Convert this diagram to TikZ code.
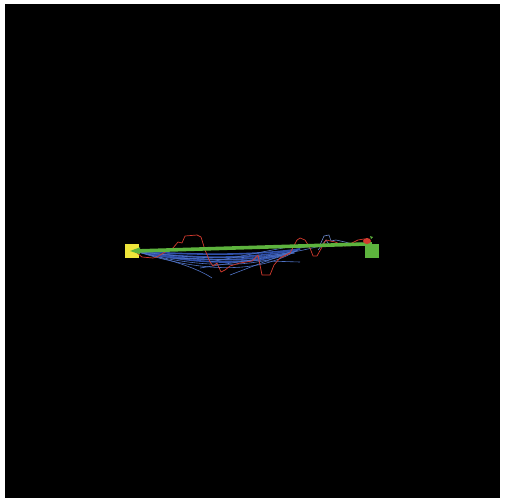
\documentclass[tikz,border=0pt]{standalone}
\usepackage{tikz}
\usetikzlibrary{shapes.geometric}
\definecolor{yel}{HTML}{EEE53A}
\definecolor{grn}{HTML}{5DB33D}
\definecolor{redp}{HTML}{D23A2E}
\definecolor{bluedk}{HTML}{2F4FA8}
\definecolor{bluelt}{HTML}{4F72C4}
\definecolor{bluest}{HTML}{6A86C8}
\tikzset{
  redpath/.style={draw=redp, line width=0.7pt, line join=round},
  bluethick/.style={draw=bluedk, line width=1.6pt},
  bluethin/.style={draw=bluelt, line width=0.6pt},
  bluest/.style={draw=bluest, line width=0.6pt},
  greenline/.style={draw=grn, line width=3.6pt},
}
\begin{document}
\begin{tikzpicture}[x=1pt,y=-1pt]
\useasboundingbox (0,0) rectangle (505,503);
\fill[white] (0,0) rectangle (505,503);
\fill[black] (5,4) rectangle (500,498);
% squares
\node[fill=yel, minimum size=14pt, inner sep=0pt] (start) at (132,251) {};
\node[fill=grn, minimum size=14pt, inner sep=0pt] (goal) at (372,251) {};
\coordinate (s) at (135,251);
\coordinate (m) at (300,249);
% blue fan (thick)
\draw[bluethick] (s) .. controls (190,255) and (250,256) .. (m);
\draw[bluethick] (s) .. controls (190,259) and (250,260) .. (m);
\draw[bluethick] (s) .. controls (190,262) and (250,263) .. (296,251);
\draw[bluethick] (s) .. controls (200,265) and (250,266) .. (292,252);
% blue fan (thin)
\draw[bluethin] (s) .. controls (195,268) and (255,270) .. (298,250);
\draw[bluethin] (s) .. controls (200,272) and (255,274) .. (294,252);
\draw[bluethin] (s) .. controls (200,260) and (260,262) .. (320,246);
\draw[bluethin] (s) .. controls (180,262) and (200,270) .. (212,278);
\draw[bluethin] (170,258) -- (300,262);
\draw[bluethin] (200,268) -- (295,253);
\draw[bluethin] (230,275) -- (290,252);
\draw[bluethin] (210,262) -- (283,248);
% steel blue wiggle
\draw[bluest] (300,248) -- (312,246) -- (320,245) -- (324,236) -- (329,235) -- (331,241) -- (336,240) -- (345,242) -- (352,244) -- (362,243);
\draw[bluest] (318,250) -- (326,240) -- (330,246);
% red path
\draw[redpath] (137,253) -- (142,257) -- (153,258) -- (157,257) -- (165,252) -- (173,248) -- (178,242) -- (182,243) -- (185,236) -- (197,235) -- (201,237) -- (205,250) -- (210,262) -- (213,266) -- (217,263) -- (221,272) -- (225,270) -- (230,266) -- (240,263) -- (252,261) -- (258,255) -- (262,275) -- (270,275) -- (274,265) -- (280,258) -- (290,253) -- (297,240) -- (300,238) -- (305,240) -- (310,248) -- (313,256) -- (317,256) -- (322,247) -- (326,240) -- (335,242) -- (345,246) -- (352,243) -- (358,240) -- (364,239) -- (368,242);
% green line
\draw[greenline] (s) -- (goal.north);
\fill[grn] (130,251) -- (140,247.3) -- (140,254.3) -- cycle;
% red goal blob
\node[fill=redp, ellipse, minimum width=8pt, minimum height=6pt, inner sep=0pt] (blob) at (367,241) {};
\fill[grn] (370,236) -- (373,237) -- (371,239) -- cycle;
\end{tikzpicture}
\end{document}
